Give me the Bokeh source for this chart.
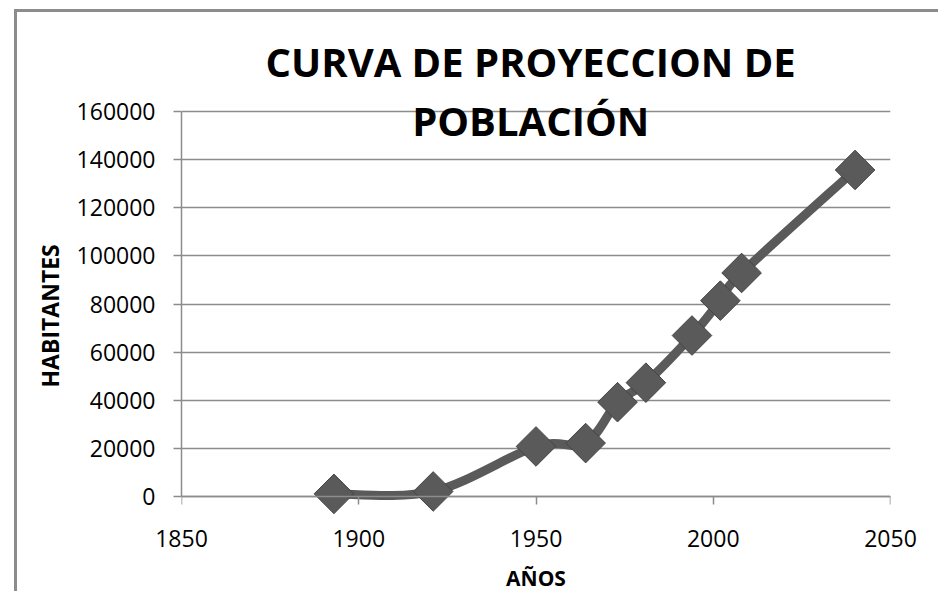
import numpy as np
from bokeh.plotting import figure
from bokeh.models import (ColumnDataSource, Label, FixedTicker,
                          BasicTickFormatter, Title, LinearAxis)
from bokeh.embed import file_html
from bokeh.resources import INLINE

# ---- data ----
years = [1893, 1921, 1950, 1964, 1973, 1981, 1994, 2002, 2008, 2040]
habitantes = [1100, 2100, 20800, 22200, 39200, 47300, 66900, 81400, 92900, 135700]
x_ticks = [1850, 1900, 1950, 2000, 2050]
y_ticks = [0, 20000, 40000, 60000, 80000, 100000, 120000, 140000, 160000]
title_line1 = "CURVA DE PROYECCION DE"
title_line2 = "POBLACIÓN"
x_title = "AÑOS"
y_title = "HABITANTES"

FONT = "Open Sans"
GRAY = "#8c8c8c"
SERIES = "#5a5a5a"

p = figure(width=924, height=582, output_backend="svg", toolbar_location=None,
           x_range=(1850, 2050), y_range=(-8310, 165403),
           min_border_left=164, min_border_right=51,
           min_border_top=86, min_border_bottom=78,
           margin=(9, 0, 0, 14))
p.styles = {"border-left": "3px solid #8c8c8c", "border-top": "3px solid #8c8c8c"}
p.outline_line_color = None
p.background_fill_color = "white"
p.border_fill_color = "white"

# grid
p.xgrid.grid_line_color = None
p.ygrid.grid_line_color = GRAY
p.ygrid.grid_line_width = 1.5
p.ygrid.ticker = FixedTicker(ticks=y_ticks)

# y axis
yax = p.yaxis[0]
yax.ticker = FixedTicker(ticks=y_ticks)
yax.bounds = (0, 160000)
yax.axis_line_color = GRAY
yax.axis_line_width = 1.5
yax.major_tick_line_color = GRAY
yax.major_tick_line_width = 1.5
yax.major_tick_in = 0
yax.major_tick_out = 8
yax.minor_tick_line_color = None
yax.major_label_text_font = FONT
yax.major_label_text_font_size = "23px"
yax.major_label_text_color = "black"
yax.major_label_standoff = 18
yax.formatter = BasicTickFormatter(use_scientific=False)

# x axis labels + title (at frame bottom, no line / ticks)
xb = p.xaxis[0]
xb.ticker = FixedTicker(ticks=x_ticks)
xb.axis_line_color = None
xb.major_tick_line_color = None
xb.major_tick_in = 0
xb.major_tick_out = 0
xb.minor_tick_line_color = None
xb.major_label_text_font = FONT
xb.major_label_text_font_size = "23px"
xb.major_label_text_color = "black"
xb.major_label_standoff = 13
xb.formatter = BasicTickFormatter(use_scientific=False)
xb.axis_label = x_title
xb.axis_label_text_font = FONT
xb.axis_label_text_font_style = "bold"
xb.axis_label_text_font_size = "21px"
xb.axis_label_text_color = "black"
xb.axis_label_standoff = 14

# x axis line and tick marks at y = 0
xa0 = LinearAxis(fixed_location=0,
                 ticker=FixedTicker(ticks=[], minor_ticks=x_ticks),
                 axis_line_color=GRAY, axis_line_width=1.5,
                 major_tick_line_color=None,
                 minor_tick_line_color=GRAY, minor_tick_line_width=1.5,
                 minor_tick_in=8, minor_tick_out=0)
p.add_layout(xa0, "above")

# smooth line (Catmull-Rom style bezier between consecutive points)
xa = np.array(years, dtype=float)
yarr = np.array(habitantes, dtype=float)
xp = np.concatenate([[xa[0]], xa, [xa[-1]]])
yp = np.concatenate([[yarr[0]], yarr, [yarr[-1]]])
n = len(xa)
x0 = xa[:-1]; y0 = yarr[:-1]; x1 = xa[1:]; y1 = yarr[1:]
cx0 = x0 + (xp[2:n + 1] - xp[0:n - 1]) / 6.0
cy0 = y0 + (yp[2:n + 1] - yp[0:n - 1]) / 6.0
cx1 = x1 - (xp[3:n + 2] - xp[1:n]) / 6.0
cy1 = y1 - (yp[3:n + 2] - yp[1:n]) / 6.0
bsrc = ColumnDataSource(dict(x0=x0, y0=y0, x1=x1, y1=y1,
                             cx0=cx0, cy0=cy0, cx1=cx1, cy1=cy1))
p.bezier(x0="x0", y0="y0", x1="x1", y1="y1", cx0="cx0", cy0="cy0",
         cx1="cx1", cy1="cy1", source=bsrc, line_color=SERIES,
         line_width=9, line_cap="round")

src = ColumnDataSource(dict(x=years, y=habitantes))
p.scatter("x", "y", source=src, marker="square", angle=np.pi / 4, size=28,
          fill_color=SERIES, line_color="#444444", line_width=1)

# titles
p.title = Title(text=title_line1, text_font=FONT, text_font_style="bold",
                text_font_size="40px", align="left", offset=84, standoff=19,
                vertical_align="bottom", text_color="black")
p.add_layout(Label(x=1948.5, y=160000, y_offset=-9, text=title_line2,
                   text_font=FONT, text_font_style="bold", text_font_size="40px",
                   text_align="center", text_baseline="alphabetic",
                   text_color="black"))
p.add_layout(Title(text=y_title, text_font=FONT, text_font_style="bold",
                   text_font_size="23px", align="left", offset=129,
                   standoff=15, vertical_align="bottom", text_color="black"),
             "left")

open("out.html", "w").write(file_html(p, INLINE))
